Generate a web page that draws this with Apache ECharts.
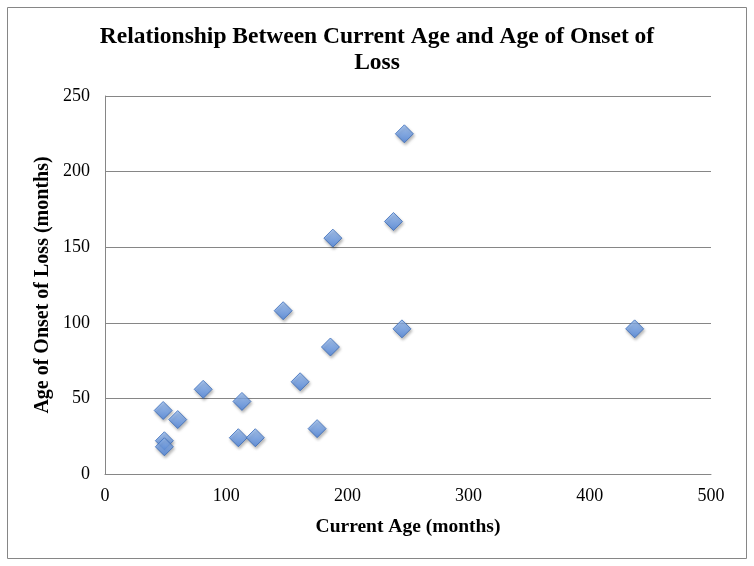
<!DOCTYPE html>
<html><head><meta charset="utf-8">
<script src="https://cdn.jsdelivr.net/npm/echarts@6/dist/echarts.min.js"></script>
<style>html,body{margin:0;padding:0;background:#fff}#c{width:754px;height:566px}</style>
</head><body><div id="c"></div>
<script>
const currentAge = [48, 49, 49, 60, 81, 110, 113, 124, 147, 161, 175, 186, 188, 238, 245, 247, 437];
const onsetAge   = [42, 22, 18, 36, 56, 24, 48, 24, 108, 61, 30, 84, 156, 167, 96, 225, 96];
const titleText = 'Relationship Between Current Age and Age of Onset of\nLoss';
const xName = 'Current Age (months)';
const yName = 'Age of Onset of Loss (months)';

const points = currentAge.map((x, i) => [x, onsetAge[i]]);
const chart = echarts.init(document.getElementById('c'), null, {renderer: 'canvas'});
const FF = 'Liberation Serif';
chart.setOption({
  backgroundColor: '#fff',
  animation: false,
  graphic: [{type: 'rect', shape: {x: 7.5, y: 7.5, width: 739, height: 551}, style: {fill: 'none', stroke: '#868686', lineWidth: 1}}],
  title: {text: titleText, left: 'center', top: 19, textStyle: {fontFamily: FF, fontWeight: 'bold', fontSize: 23.5, color: '#000', lineHeight: 26}},
  grid: {left: 105, right: 43, top: 96, bottom: 92, containLabel: false},
  xAxis: {
    type: 'value', min: 0, max: 500, interval: 100,
    name: xName, nameLocation: 'middle', nameGap: 43,
    nameTextStyle: {fontFamily: FF, fontWeight: 'bold', fontSize: 19.5, color: '#000'},
    axisLine: {show: true, lineStyle: {color: '#868686', width: 1}},
    axisTick: {show: false},
    axisLabel: {fontFamily: FF, fontSize: 18, color: '#000', margin: 13},
    splitLine: {show: false}
  },
  yAxis: {
    type: 'value', min: 0, max: 250, interval: 50,
    name: yName, nameLocation: 'middle', nameGap: 52, nameRotate: 90, nameMoveOverlap: false,
    nameTextStyle: {fontFamily: FF, fontWeight: 'bold', fontSize: 20, color: '#000'},
    axisLine: {show: true, lineStyle: {color: '#868686', width: 1}},
    axisTick: {show: false},
    axisLabel: {fontFamily: FF, fontSize: 18, color: '#000', margin: 15},
    splitLine: {show: true, lineStyle: {color: '#868686', width: 1}}
  },
  series: [{
    type: 'scatter',
    data: points,
    symbol: 'diamond',
    symbolSize: [18, 18],
    itemStyle: {
      color: new echarts.graphic.LinearGradient(0, 0, 0, 1, [{offset: 0, color: '#9ec2f5'}, {offset: 1, color: '#4a82dc'}]),
      borderColor: '#3b6cb8', borderWidth: 1,
      shadowColor: 'rgba(0,0,0,0.35)', shadowBlur: 3, shadowOffsetX: 1, shadowOffsetY: 2
    }
  }]
});
</script></body></html>
